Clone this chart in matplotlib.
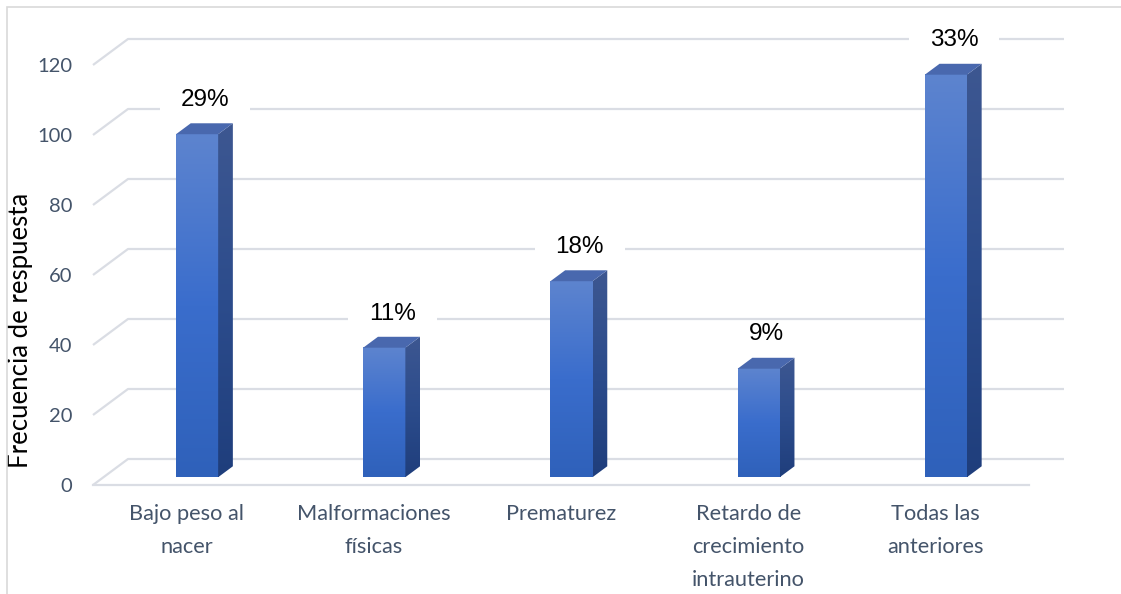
import matplotlib

matplotlib.use("Agg")
import matplotlib.pyplot as plt
import numpy as np
from matplotlib.colors import LinearSegmentedColormap
from matplotlib.patches import Polygon, Rectangle
from matplotlib.path import Path

# ── data ────────────────────────────────────────────────────────────────────
categorias = [
    "Bajo peso al\nnacer",
    "Malformaciones\nfísicas",
    "Prematurez",
    "Retardo de\ncrecimiento\nintrauterino",
    "Todas las\nanteriores",
]
frecuencias = [98, 37, 56, 31, 115]
porcentajes = ["29%", "11%", "18%", "9%", "33%"]
yticks = [0, 20, 40, 60, 80, 100, 120]

# ── layout (pixels) ─────────────────────────────────────────────────────────
W, H = 1121, 594
LEFT, RIGHT, BOTTOM, TOP = 93, 1029, 485, 30
PX_PER_UNIT = 3.5

# oblique depth of the floor, in data units (category / value)
DEPTH_X = 35 / ((RIGHT - LEFT) / 5)
DEPTH_Y = 26 / PX_PER_UNIT
BAR_Z0, BAR_Z1 = 0.30, 0.72      # bar front/back as fraction of floor depth
BAR_W = 0.225

GRID = "#dadde4"
TEXT = "#44546a"
FRONT = LinearSegmentedColormap.from_list("front", ["#2f61ba", "#3a6dcc", "#5d84cf"])
SIDE = LinearSegmentedColormap.from_list("side", ["#1f3e7c", "#2c4c8c", "#3d5791"])
TOPC = "#4968ae"

plt.rcParams["font.family"] = ["Lato", "DejaVu Sans"]


def caja_etiqueta(x0, y0, width, height, mutation_size):
    """White box behind a data label: wide sideways, tight vertically."""
    padx, pady = 0.85 * mutation_size, 0.1 * mutation_size
    xa, ya = x0 - padx, y0 - pady
    xb, yb = x0 + width + padx, y0 + height + pady
    return Path([(xa, ya), (xb, ya), (xb, yb), (xa, yb), (xa, ya)], closed=True)


fig = plt.figure(figsize=(W / 100, H / 100), dpi=100)
ax = fig.add_axes([LEFT / W, 1 - BOTTOM / H, (RIGHT - LEFT) / W, (BOTTOM - TOP) / H])
xlim = (-0.5, 4.5)
ylim = (0, (BOTTOM - TOP) / PX_PER_UNIT)

# back wall gridlines plus the slanted left edge of the floor/wall
for v in yticks:
    ax.plot([xlim[0], xlim[0] + DEPTH_X, xlim[1] + DEPTH_X],
            [v, v + DEPTH_Y, v + DEPTH_Y],
            color=GRID, lw=1.6, clip_on=False, zorder=1, solid_capstyle="butt")
ax.plot(xlim, [0, 0], color=GRID, lw=1.6, clip_on=False, zorder=1)

grad = np.linspace(0, 1, 256).reshape(-1, 1)

for i, v in enumerate(frecuencias):
    dx0, dy0 = BAR_Z0 * DEPTH_X, BAR_Z0 * DEPTH_Y
    dx1, dy1 = BAR_Z1 * DEPTH_X, BAR_Z1 * DEPTH_Y
    x0 = i - BAR_W / 2 + dx0
    x1 = i + BAR_W / 2 + dx0
    y0, y1 = dy0, dy0 + v
    ddx, ddy = dx1 - dx0, dy1 - dy0

    # front face
    ax.imshow(grad, cmap=FRONT, extent=[x0, x1, y0, y1], origin="lower",
              aspect="auto", zorder=3, interpolation="bicubic")

    # right side face
    side = Polygon([(x1, y0), (x1 + ddx, y0 + ddy), (x1 + ddx, y1 + ddy), (x1, y1)],
                   closed=True, fc="none", ec="none")
    ax.add_patch(side)
    im = ax.imshow(grad, cmap=SIDE, extent=[x1, x1 + ddx, y0, y1 + ddy],
                   origin="lower", aspect="auto", zorder=3, interpolation="bicubic")
    im.set_clip_path(side)

    # top face
    ax.add_patch(Polygon([(x0, y1), (x1, y1), (x1 + ddx, y1 + ddy), (x0 + ddx, y1 + ddy)],
                         closed=True, fc=TOPC, ec="none", zorder=4))

    ax.text(i + 0.1, v + 12, porcentajes[i], ha="center", va="center",
            fontsize=17.5, family="Liberation Sans", color="black", zorder=5,
            bbox=dict(boxstyle=caja_etiqueta, fc="white", ec="none"))

ax.set_xlim(xlim)
ax.set_ylim(ylim)
ax.set_xticks(range(len(categorias)))
ax.set_xticklabels(categorias, fontsize=15.7, color=TEXT, linespacing=1.8, va="top")
ax.set_yticks(yticks)
ax.set_yticklabels([str(t) for t in yticks], fontsize=14.5, color=TEXT)
ax.tick_params(axis="both", length=0)
ax.tick_params(axis="y", pad=15)
ax.tick_params(axis="x", pad=14)
for s in ax.spines.values():
    s.set_visible(False)

ax.set_ylabel("Frecuencia de respuesta", fontsize=18.5, color="black")
ax.yaxis.set_label_coords((33 - LEFT) / (RIGHT - LEFT), (BOTTOM - 330) / (BOTTOM - TOP))

# chart frame (only its top and left edges fall inside the image)
fig.add_artist(Rectangle((7 / W, -0.2), 1.5, 1.2 - 7 / H, transform=fig.transFigure,
                         fill=False, ec="#d9d9d9", lw=1.2))

fig.savefig("out.png", dpi=100, facecolor="white")
